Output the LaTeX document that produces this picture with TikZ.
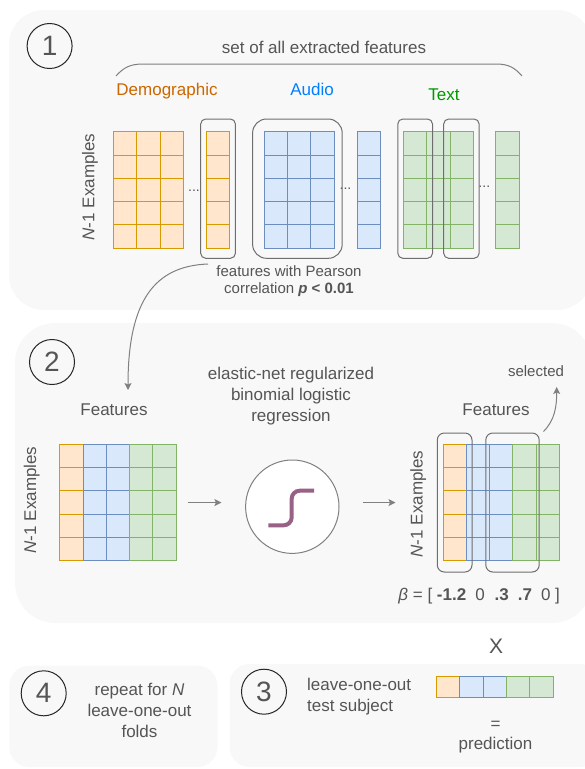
\documentclass[tikz,border=0pt]{standalone}
\usepackage{fontspec}
\setmainfont{Liberation Sans}
\usetikzlibrary{arrows.meta}
\definecolor{demofill}{HTML}{FFE6CC}
\definecolor{demoline}{HTML}{D79B00}
\definecolor{audiofill}{HTML}{DAE8FC}
\definecolor{audioline}{HTML}{6C8EBF}
\definecolor{textfill}{HTML}{D5E8D4}
\definecolor{textline}{HTML}{82B366}
\definecolor{panelgray}{HTML}{F8F8F8}
\definecolor{labelgray}{HTML}{555555}
\definecolor{linegray}{HTML}{808080}
\definecolor{boxgray}{HTML}{6E6E6E}
\definecolor{demolabel}{HTML}{CC6600}
\definecolor{audiolabel}{HTML}{007FFF}
\definecolor{textlabel}{HTML}{009900}
\definecolor{sigpurple}{HTML}{996185}

\tikzset{
  featcell/.style={draw, line width=1pt, minimum width=23.3pt, minimum height=23.3pt, inner sep=0pt, outer sep=0pt},
  demo/.style={featcell, draw=demoline, fill=demofill},
  audio/.style={featcell, draw=audioline, fill=audiofill},
  textcell/.style={featcell, draw=textline, fill=textfill},
  panel/.style={fill=panelgray, draw=none},
  numcirc/.style={circle, draw=black!85, line width=1pt, minimum size=45pt, inner sep=0pt, text=labelgray, font=\fontsize{28}{28}\selectfont},
  lbl/.style={text=labelgray, font=\fontsize{17}{21}\selectfont, align=center, inner sep=0pt},
  smalllbl/.style={text=labelgray, font=\fontsize{15}{17}\selectfont, align=center, inner sep=0pt},
  dots/.style={text=labelgray, font=\fontsize{14}{14}\selectfont, inner sep=0pt},
  selbox/.style={draw=boxgray, line width=1pt, rounded corners=5pt},
  arr/.style={draw=linegray, line width=1pt, -{Stealth[length=7pt,width=7pt,inset=1.5pt]}},
}

\begin{document}
\begin{tikzpicture}[x=1pt,y=-1pt]
        \useasboundingbox (0,0) rectangle (585,769);
        \clip (0,0) rectangle (585,769);
        \fill[panel, rounded corners=35pt] (9,10) rectangle (592,310);
        \fill[panel, rounded corners=40pt] (15,323) rectangle (592,623);
        \fill[panel, rounded corners=20pt] (9.3,665.7) rectangle (217.5,767);
        \fill[panel, rounded corners=20pt] (229.5,664) rectangle (600,767);

        \node[numcirc](one) at (49.6,46) {1};
        \node[numcirc](two) at (52,362) {2};
        \node[numcirc](three) at (264,691.7) {3};
        \node[numcirc](four) at (43.7,693.3) {4};

        \node[lbl](allfeat) at (324,47) {set of all extracted features};
        \draw[linegray, line width=1pt] (116,76) .. controls (124,67) and (131,64) .. (143,64) -- (496,64) .. controls (509,64) and (515,68) .. (522,76);
        \node[lbl, text=demolabel, anchor=base](demolbl) at (167,95.7) {Demographic};
        \node[lbl, text=audiolabel, anchor=base](audiolbl) at (312,95.7) {Audio};
        \node[lbl, text=textlabel, anchor=base](textlbl) at (444,100) {Text};
        \node[lbl, rotate=90](nexA) at (90,187) {\textit{N}-1 Examples};

        \foreach \x/\k [count=\i] in {113.4/demo,136.7/demo,160/demo,206.3/demo,264.2/audio,287.5/audio,310.8/audio,357/audio,403.4/textcell,426.7/textcell,450/textcell,495.9/textcell}
          \foreach \r in {0,...,4}
            \node[\k](f\i-\r) at (\x+11.65,143.35+\r*23.3) {};
        \node[dots](dotsA) at (194,191) {...};
        \node[dots](dotsB) at (345.5,189) {...};
        \node[dots](dotsC) at (484.3,187) {...};
        \draw[selbox] (200.7,119) rectangle (235.4,258.3);
        \draw[selbox, rounded corners=14pt] (252.6,119) rectangle (342.2,258.3);
        \draw[selbox] (397.8,119) rectangle (432.5,258.3);
        \draw[selbox] (443.7,119) rectangle (479.1,258.3);

        \node[smalllbl](pearson) at (289,281.5) {features with Pearson\\correlation \textbf{\textit{p} < 0.01}};
        \coordinate(pstart) at (208,264);
        \coordinate(ptip) at (128,390);
        \draw[arr] (pstart) .. controls (155,266) and (128,300) .. (ptip);

        \node[lbl](featL) at (114,410) {Features};
        \node[lbl](featR) at (496,410) {Features};
        \node[lbl](model) at (291,396) {elastic-net regularized\\binomial logistic\\regression};
        \node[lbl, rotate=90](nexL) at (31.7,500) {\textit{N}-1 Examples};
        \node[lbl, rotate=90](nexR) at (418.3,504) {\textit{N}-1 Examples};
        \foreach \x/\k [count=\i] in {59.7/demo,83/audio,106.3/audio,129.6/textcell,152.9/textcell}
          \foreach \r in {0,...,4}
            \node[\k](L\i-\r) at (\x+11.65,455.95+\r*23.3) {};
        \foreach \x/\k [count=\i] in {443/demo,466.3/audio,489.6/audio,512.9/textcell,536.2/textcell}
          \foreach \r in {0,...,4}
            \node[\k](R\i-\r) at (\x+11.65,455.95+\r*23.3) {};
        \draw[selbox, rounded corners=7pt] (437.3,433) rectangle (472,572);
        \draw[selbox, rounded corners=7pt] (485.8,433) rectangle (539.2,572);

        \node[circle, draw=linegray, fill=white, line width=1pt, minimum size=93.4pt, inner sep=0pt](sig) at (292.3,506.7) {};
        \draw[sigpurple, line width=4pt, rounded corners=8pt] (268.3,525.3) -- (291.7,525.3) -- (291.7,490.7) -- (314,490.7);
        \draw[arr, shorten <=11.5pt, shorten >=23.7pt] (L5-2.east) -- (L5-2.east -| sig.west);
        \draw[arr, shorten <=23pt, shorten >=47.5pt] (sig.east |- R1-2.west) -- (R1-2.west);

        \node[smalllbl](selected) at (536,371) {selected};
        \coordinate(selstart) at (543.5,431.5);
        \coordinate(seltip) at (556.7,387);
        \draw[arr] (selstart) .. controls (555,420) and (556.7,406) .. (seltip);
        \node[lbl](beta) at (479.2,595.7) {{\itshape β} = [ \textbf{-1.2}\hspace{9pt}0\hspace{10pt}\textbf{.3}\hspace{9pt}\textbf{.7}\hspace{9pt}0 ]};

        \node[lbl, font=\fontsize{21}{21}\selectfont](times) at (496,646.7) {X};
        \node[lbl](repeat) at (139.5,710) {repeat for \textit{N}\\leave-one-out\\folds};
        \node[lbl, align=left, anchor=west](testsubj) at (307,696.3) {leave-one-out\\test subject};
        \foreach \x/\k [count=\i] in {436.6/demo,459.9/audio,483.2/audio,506.5/textcell,529.8/textcell}
          \node[\k, minimum height=21pt](T\i) at (\x+11.65,687.2) {};
        \node[lbl](eq) at (495.5,725) {=};
        \node[lbl](pred) at (495.5,745) {prediction};
        \end{tikzpicture}
\end{document}
